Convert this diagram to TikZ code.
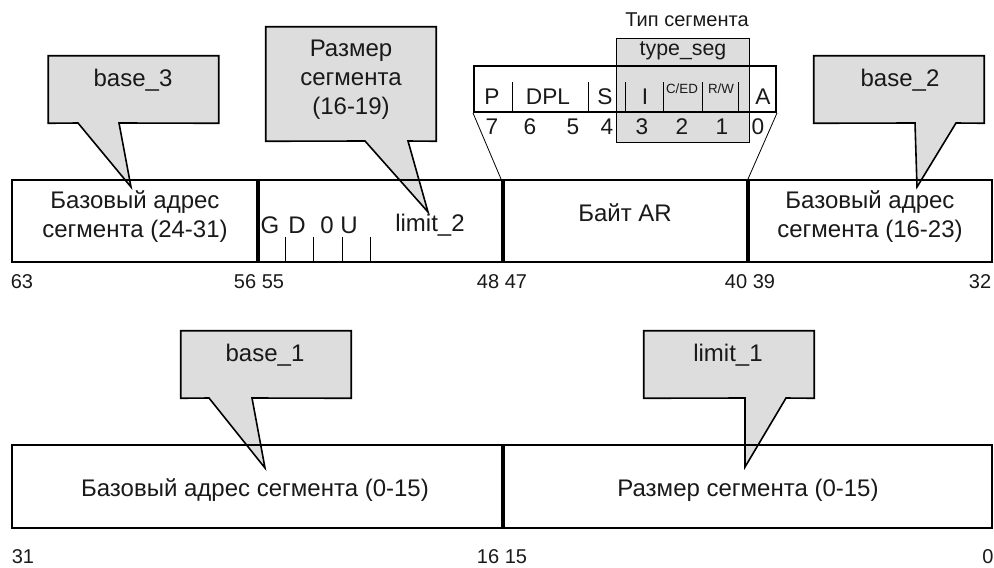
\documentclass[tikz,border=0pt]{standalone}
\usepackage{fontspec}
\setmainfont{Liberation Sans}
\usetikzlibrary{backgrounds}
\newdimen\px \px=0.75pt
\definecolor{cgray}{RGB}{221,221,221}
\definecolor{ink}{RGB}{25,25,25}
\begin{document}
\begin{tikzpicture}[x=0.75pt,y=-0.75pt,
  field/.style={draw, line width=1.5pt, minimum height=82\px, minimum width=245\px, inner sep=0pt},
  wide/.style={draw, line width=1.5pt, minimum height=83\px, minimum width=490\px, inner sep=0pt},
  divider/.style={line width=2.4pt},
  txt/.style={inner sep=0pt, align=center, text=ink, font=\fontsize{18}{21.75}\selectfont},
  bitnum/.style={inner sep=0pt, text=ink, font=\fontsize{15}{17}\selectfont},
  arl/.style={inner sep=0pt, text=ink, font=\fontsize{17}{20}\selectfont},
  small/.style={inner sep=0pt, text=ink, font=\fontsize{10}{11}\selectfont},
  cbox/.style={inner sep=0pt, minimum width=170\px},
  cshape/.style={fill=cgray, draw, line width=1.2pt, line join=miter},
  sep/.style={line width=0.7pt},
  tick/.style={line width=0.7pt}
]
\useasboundingbox (0,0) rectangle (994,567);

% ---------- callout boxes (outline drawn on background) ----------
\node[cbox, minimum height=67\px] (c3) at (133.5,89.5) {};
\node[cbox, minimum height=114\px] (cs) at (351,84) {};
\node[cbox, minimum height=67\px] (c2) at (899,89.5) {};
\node[cbox, minimum height=67\px] (c1) at (266,364.5) {};
\node[cbox, minimum height=67\px] (cl) at (729,364.5) {};
\coordinate (c3a) at (78,123);  \coordinate (c3b) at (119,123);  \coordinate (c3tip) at (131,187);
\coordinate (csa) at (365,141); \coordinate (csb) at (408,141); \coordinate (cstip) at (428,212);
\coordinate (c2a) at (915,123); \coordinate (c2b) at (956,123); \coordinate (c2tip) at (917,187);
\coordinate (c1a) at (209,398); \coordinate (c1b) at (252,398); \coordinate (c1tip) at (265,468);
\coordinate (cla) at (745,398); \coordinate (clb) at (786,398); \coordinate (cltip) at (745,467);

% ---------- AR byte detail ----------
\node[draw, line width=1.5pt, minimum width=302\px, minimum height=46\px, inner sep=0pt] (ar) at (625,89) {};
\node[inner sep=0pt, minimum width=132\px, minimum height=103\px] (ts) at (683,90.5) {};

\begin{scope}[on background layer]
  \draw[cshape] (c3.north west) -- (c3.north east) -- (c3.south east) -- (c3b) -- (c3tip) -- (c3a) -- (c3.south west) -- cycle;
  \draw[cshape] (cs.north west) -- (cs.north east) -- (cs.south east) -- (csb) -- (cstip) -- (csa) -- (cs.south west) -- cycle;
  \draw[cshape] (c2.north west) -- (c2.north east) -- (c2.south east) -- (c2b) -- (c2tip) -- (c2a) -- (c2.south west) -- cycle;
  \draw[cshape] (c1.north west) -- (c1.north east) -- (c1.south east) -- (c1b) -- (c1tip) -- (c1a) -- (c1.south west) -- cycle;
  \draw[cshape] (cl.north west) -- (cl.north east) -- (cl.south east) -- (clb) -- (cltip) -- (cla) -- (cl.south west) -- cycle;
  \draw[fill=cgray, line width=0.6pt] (ts.north west) rectangle (ts.south east);
\end{scope}

% callout texts
\node[txt] (c3t) at (133,80) {base\_3};
\node[txt] (cst) at (351,80) {Размер\\сегмента\\(16-19)};
\node[txt] (c2t) at (900,80) {base\_2};
\node[txt] (c1t) at (265,355) {base\_1};
\node[txt] (clt) at (728,355) {limit\_1};

% AR byte labels
\node[inner sep=0pt, text=ink, font=\fontsize{15}{18}\selectfont] (tip) at (687,20) {Тип сегмента};
\node[inner sep=0pt, text=ink, font=\fontsize{16}{19}\selectfont] (tsn) at (683,51) {type\_seg};
\node[arl] (bP) at (492,97) {P};
\node[arl] (bDPL) at (548,97) {DPL};
\node[arl] (bS) at (605,97) {S};
\node[arl] (bI) at (645,97) {I};
\node[small] (bC) at (682,89) {C/ED};
\node[small] (bR) at (721,89) {R/W};
\node[arl] (bA) at (763,97) {A};
\foreach \x in {512,588,625,663,702,738} \draw[sep] (\x,82) -- (\x,112);
\node[arl] (n7) at (492,127) {7};
\node[arl] (n6) at (530,127) {6};
\node[arl] (n5) at (573,127) {5};
\node[arl] (n4) at (607,127) {4};
\node[arl] (n3) at (642,127) {3};
\node[arl] (n2) at (682,127) {2};
\node[arl] (n1) at (722,127) {1};
\node[arl] (n0) at (758,127) {0};

% ---------- top row ----------
\node[field] (f63) at (134.5,221) {};
\node[field] (f55) at (379.5,221) {};
\node[field] (fAR) at (624.5,221) {};
\node[field] (f39) at (869.5,221) {};
\draw[divider] (f63.north east) -- (f63.south east);
\draw[divider] (f55.north east) -- (f55.south east);
\draw[divider] (fAR.north east) -- (fAR.south east);

\draw[line width=0.6pt] (ar.south west) -- (fAR.north west);
\draw[line width=0.6pt] (ar.south east) -- (fAR.north east);

\node[txt] (t63) at (135,217) {Базовый адрес\\сегмента (24-31)};
\node[txt] (t39) at (870,217) {Базовый адрес\\сегмента (16-23)};
\node[txt] (tAR) at (625,213) {Байт AR};
\node[txt] (tG) at (270,225) {G};
\node[txt] (tD) at (297,225) {D};
\node[txt] (t0) at (327,225) {0};
\node[txt] (tU) at (349,225) {U};
\node[txt] (tl2) at (430,225) {limit\_2};
\foreach \x in {285,313,342,370} \draw[tick] (\x,237) -- (\x,262);

\node[bitnum] (l63) at (22,282) {63};
\node[bitnum] (l56) at (259,282) {56 55};
\node[bitnum] (l48) at (502,282) {48 47};
\node[bitnum] (l40) at (750,282) {40 39};
\node[bitnum] (l32) at (980,282) {32};

% ---------- bottom row ----------
\node[wide] (b31) at (257,486.5) {};
\node[wide] (b15) at (747,486.5) {};
\draw[divider] (b31.north east) -- (b31.south east);
\node[txt] (tb31) at (255,490) {Базовый адрес сегмента (0-15)};
\node[txt] (tb15) at (748,490) {Размер сегмента (0-15)};

\node[bitnum] (l31) at (23,557) {31};
\node[bitnum] (l16) at (502,557) {16 15};
\node[bitnum] (l0) at (988,557) {0};
\end{tikzpicture}
\end{document}
